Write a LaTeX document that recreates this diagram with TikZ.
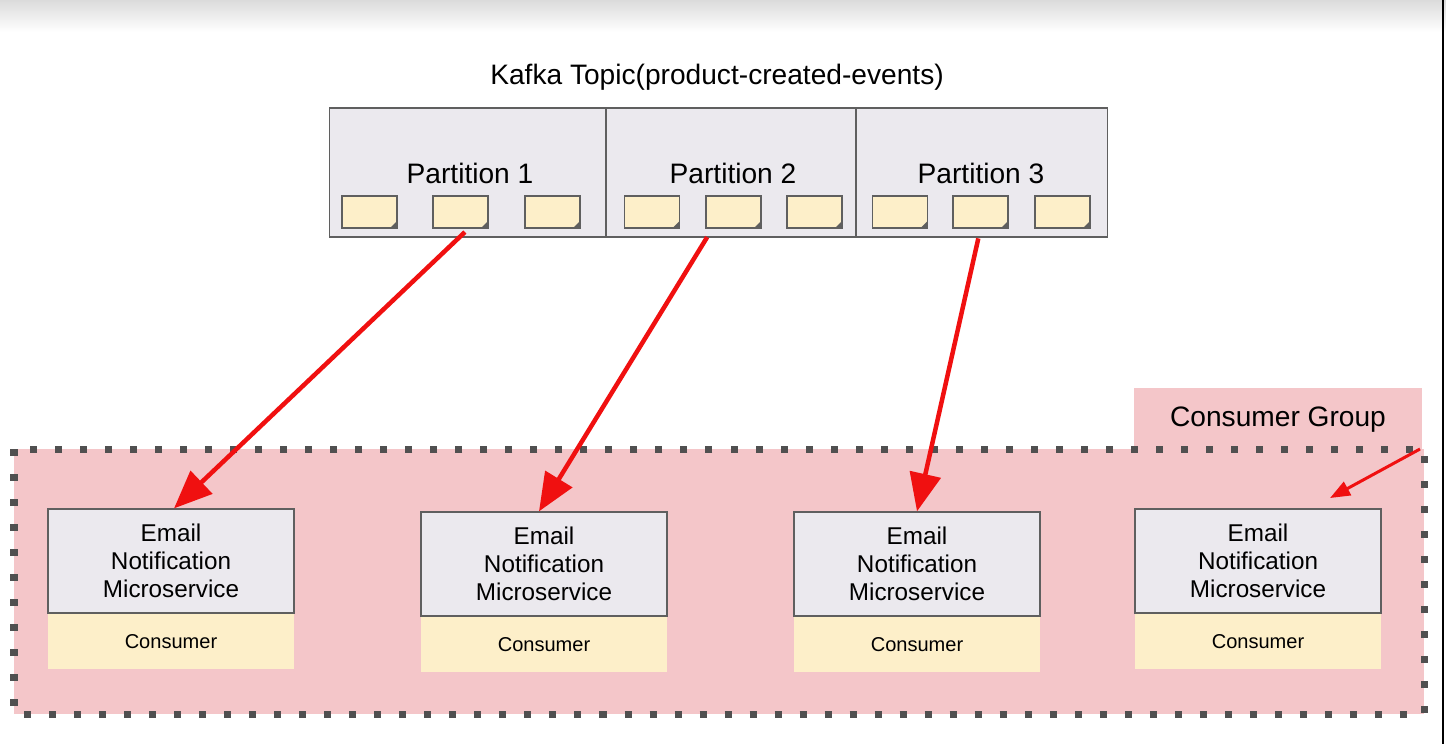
\documentclass[tikz,border=0pt]{standalone}
\usepackage{fontspec}
\setmainfont{Liberation Sans}
\usetikzlibrary{positioning,arrows.meta}
\definecolor{boxgray}{RGB}{235,233,238}
\definecolor{edgegray}{RGB}{95,95,95}
\definecolor{msgyellow}{RGB}{253,239,201}
\definecolor{grouppink}{RGB}{244,198,201}
\definecolor{dotgray}{RGB}{80,80,80}
\definecolor{arrowred}{RGB}{240,16,16}

\tikzset{
  topicbox/.style={draw=edgegray, fill=boxgray, line width=0.012cm, minimum width=7.77cm, minimum height=1.29cm, inner sep=0pt},
  partlabel/.style={font=\fontsize{8pt}{9pt}\selectfont},
  msg/.style={draw=edgegray, fill=msgyellow, line width=0.012cm, minimum width=0.55cm, minimum height=0.32cm, inner sep=0pt,
    path picture={\fill[edgegray] (path picture bounding box.south east) -- ++(-0.07cm,0) -- ++(0.07cm,0.07cm) -- cycle;}},
  groupframe/.style={fill=grouppink, draw=dotgray, line width=0.07cm, dash pattern=on 0.07cm off 0.18cm},
  svcbox/.style={draw=edgegray, fill=boxgray, line width=0.012cm, minimum width=2.46cm, minimum height=1.04cm, inner sep=0pt,
    align=center, font=\fontsize{6.9pt}{8pt}\selectfont},
  consbox/.style={fill=msgyellow, minimum width=2.46cm, minimum height=0.55cm, inner sep=0pt, font=\fontsize{5.7pt}{6.5pt}\selectfont},
  redarrow/.style={draw=arrowred, line width=0.045cm, -{Triangle[length=0.38cm, width=0.31cm]}},
  smallarrow/.style={draw=arrowred, line width=0.03cm, -{Triangle[length=0.2cm, width=0.15cm]}}
}

\begin{document}
\begin{tikzpicture}[x=0.01cm,y=-0.01cm]
  \useasboundingbox (0,0) rectangle (1446,744);
  \shade[top color=black!14, bottom color=white] (0,0) rectangle (1446,32);
  \draw[black, line width=0.02cm] (1443,0) -- (1443,744);

  % topic with its partitions
  \node[partlabel] (title) at (717,77) {Kafka Topic(product-created-events)};
  \node[topicbox] (topic) at (718.5,172.5) {};
  \draw[edgegray, line width=0.012cm] (606,108) -- (606,237);
  \draw[edgegray, line width=0.012cm] (856,108) -- (856,237);
  \node[partlabel] (p1) at (470,173) {Partition 1};
  \node[partlabel] (p2) at (733,173) {Partition 2};
  \node[partlabel] (p3) at (981,173) {Partition 3};
  \foreach \x [count=\i] in {369.5,460.5,552.5,652,733.5,814.5,900,980.5,1062.5} {
    \node[msg] (m\i) at (\x,212) {};
  }

  % consumer group
  \fill[grouppink] (1134,388) rectangle (1422,450);
  \node[font=\fontsize{8pt}{9pt}\selectfont] (group) at (1278,420) {Consumer Group};
  \draw[groupframe] (14,449) rectangle (1424,714);

  \foreach \x/\y [count=\i] in {171/561, 544/564, 917/564, 1258/561} {
    \node[svcbox] (s\i) at (\x,\y) {Email\\Notification\\Microservice};
    \node[consbox, below=0pt of s\i] (c\i) {Consumer};
  }

  % assignments
  \draw[redarrow, shorten <=0.05cm] ([xshift=0.08cm]m2.south) -- ([xshift=0.03cm]s1.north);
  \draw[redarrow, shorten <=0.1cm] ([xshift=0.07cm]m5.south west) -- ([xshift=-0.05cm]s2.north);
  \draw[redarrow, shorten <=0.1cm] (m8.south) -- (s3.north);
  \coordinate (gcorner) at (1420,449);
  \coordinate (gpoint) at (1330,498);
  \draw[smallarrow] (gcorner) -- (gpoint);
\end{tikzpicture}
\end{document}
